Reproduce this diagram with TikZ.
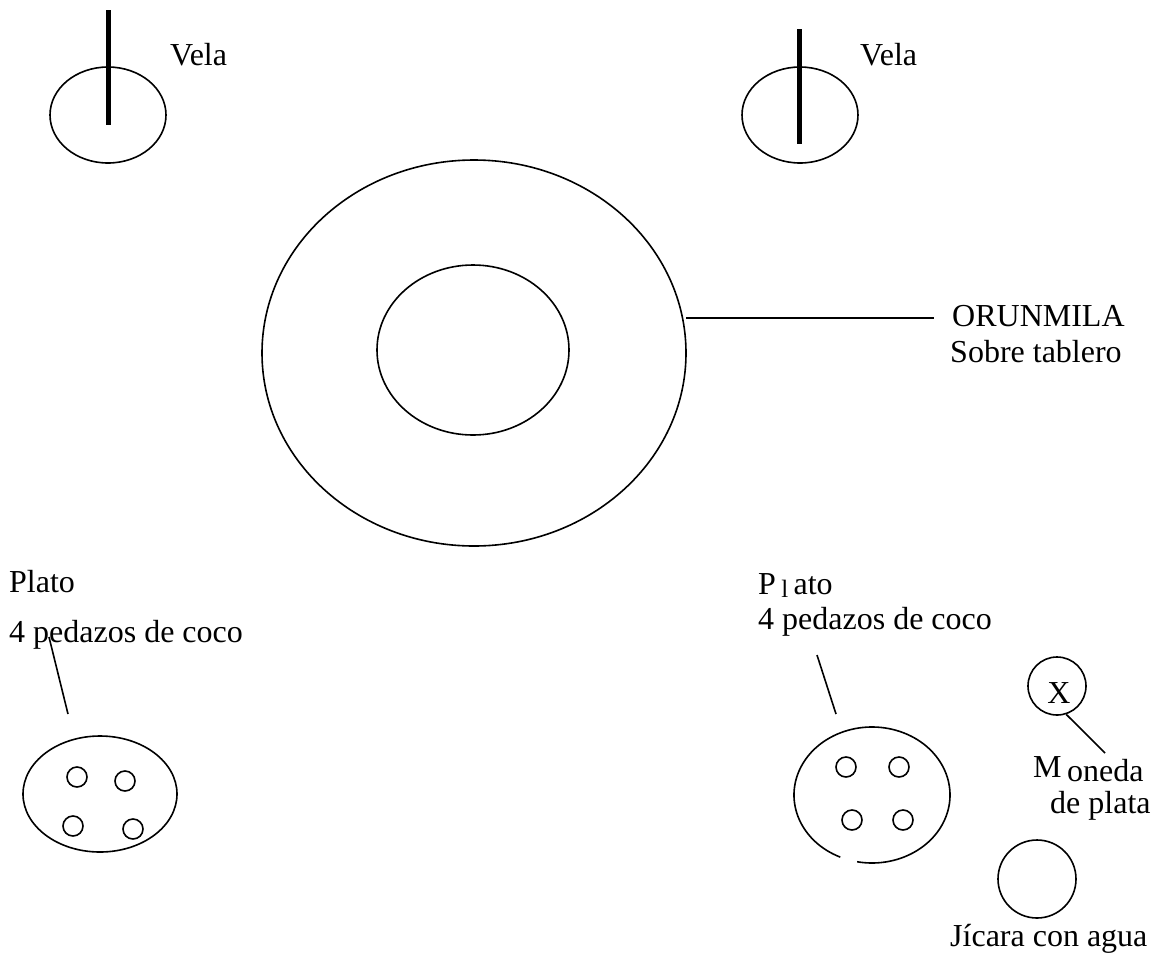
\documentclass[tikz,border=0pt]{standalone}
\usepackage{fontspec}
\setmainfont{Liberation Serif}
\tikzset{
  lbl/.style={anchor=base west, inner sep=0pt, font=\fontsize{32}{38}\selectfont},
  trazo/.style={line width=1.6pt},
  mecha/.style={line width=5pt},
  coco/.style={trazo, circle, draw, minimum size=20pt, inner sep=0pt},
}
\begin{document}
\begin{tikzpicture}[x=1pt,y=-1pt]
  \useasboundingbox (0,0) rectangle (1157,962);
  % velas
  \draw[trazo] (108,115) ellipse[x radius=58, y radius=48];
  \draw[mecha] (108,10) -- (108,125);
  \node[lbl] (vela1) at (170,65) {Vela};
  \draw[trazo] (800,115) ellipse[x radius=58, y radius=48];
  \draw[mecha] (799,29) -- (799,144);
  \node[lbl] (vela2) at (860,65) {Vela};
  % tablero
  \draw[trazo] (474,353) ellipse[x radius=212, y radius=193];
  \draw[trazo] (473,350) ellipse[x radius=96, y radius=85];
  \coordinate (tablero) at (686,318);
  \coordinate (orunfin) at (934,318);
  \draw[trazo] (tablero) -- (orunfin);
  \node[lbl] (orun) at (952,326) {ORUNMILA};
  \node[lbl] (sobre) at (950,362) {Sobre tablero};
  % plato izquierdo
  \node[lbl] (plato1) at (9,592) {Plato};
  \node[lbl] (coco1) at (9,642) {4 pedazos de coco};
  \coordinate (c1a) at (49,637);
  \coordinate (c1b) at (68,714);
  \draw[trazo] (c1a) -- (c1b);
  \draw[trazo] (100,794) ellipse[x radius=77, y radius=58];
  \node[coco] (p1a) at (77,777) {};
  \node[coco] (p1b) at (125,781) {};
  \node[coco] (p1c) at (73,826) {};
  \node[coco] (p1d) at (133,829) {};
  % plato derecho
  \node[lbl] (plato2) at (758,594) {P\,\raisebox{-3pt}{\fontsize{25}{30}\selectfont l}\,ato};
  \node[lbl] (coco2) at (758,629) {4 pedazos de coco};
  \coordinate (c2a) at (817,655);
  \coordinate (c2b) at (836,714);
  \draw[trazo] (c2a) -- (c2b);
  \draw[trazo] ([shift={(114:78 and 68)}]872,795) arc[start angle=114, end angle=461, x radius=78, y radius=68];
  \node[coco] (p2a) at (846,767) {};
  \node[coco] (p2b) at (899,767) {};
  \node[coco] (p2c) at (852,820) {};
  \node[coco] (p2d) at (903,820) {};
  % moneda
  \node[trazo, circle, draw, minimum size=58pt, inner sep=0pt] (moneda) at (1057,686) {};
  \node[lbl, anchor=base] (equis) at (1059,703) {X};
  \coordinate (monfin) at (1105,753);
  \draw[trazo] (moneda.-72) -- (monfin);
  \node[lbl] (m) at (1033,777) {M};
  \node[lbl] (oneda) at (1067,781) {oneda};
  \node[lbl] (deplata) at (1050,813) {de plata};
  % jicara
  \node[trazo, circle, draw, minimum size=78pt, inner sep=0pt] (jicara) at (1037,879) {};
  \node[lbl] (agua) at (950,946) {Jícara con agua};
\end{tikzpicture}
\end{document}
